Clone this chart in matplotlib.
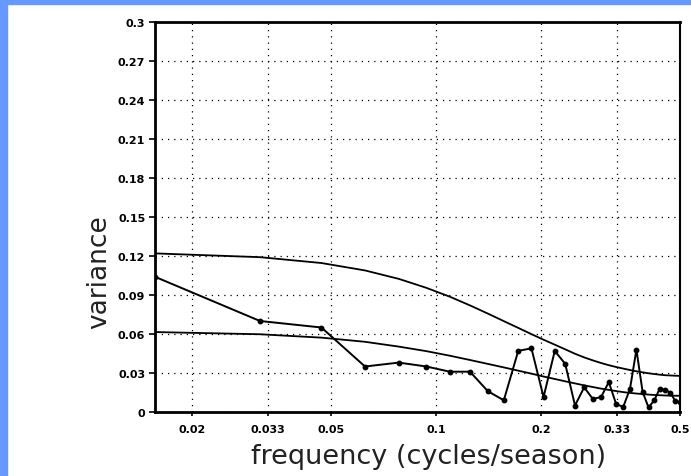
import numpy as np
import matplotlib
matplotlib.use('Agg')
import matplotlib.pyplot as plt
from matplotlib.patches import Rectangle

# harmonics k/64, k = 1..32
freq = np.arange(1, 33) / 64.0

spectrum = [0.104, 0.070, 0.065, 0.035, 0.038, 0.035, 0.031, 0.031,
            0.016, 0.009, 0.047, 0.049, 0.0115, 0.047, 0.037, 0.005,
            0.019, 0.010, 0.0115, 0.023, 0.006, 0.004, 0.0177, 0.048,
            0.0155, 0.0035, 0.009, 0.018, 0.017, 0.015, 0.0085, 0.0075]

upper = [0.1220, 0.1191, 0.1146, 0.1089, 0.1024, 0.0955, 0.0887, 0.0820,
         0.0757, 0.0699, 0.0647, 0.0599, 0.0556, 0.0518, 0.0482, 0.0448,
         0.0420, 0.0397, 0.0377, 0.0360, 0.0346, 0.0334, 0.0323, 0.0313,
         0.0305, 0.0298, 0.0292, 0.0287, 0.0283, 0.0281, 0.0279, 0.0278]

lower = [0.0615, 0.0598, 0.0572, 0.0540, 0.0503, 0.0468, 0.0433, 0.0400,
         0.0370, 0.0343, 0.0318, 0.0295, 0.0273, 0.0254, 0.0236, 0.0220,
         0.0205, 0.0192, 0.0180, 0.0170, 0.0161, 0.0153, 0.0147, 0.0142,
         0.0138, 0.0134, 0.0131, 0.0129, 0.0127, 0.0126, 0.0125, 0.0125]

xticks = [0.02, 0.033, 0.05, 0.1, 0.2, 0.33, 0.5]
xticklabels = ['0.02', '0.033', '0.05', '0.1', '0.2', '0.33', '0.5']
yticks = [0, 0.03, 0.06, 0.09, 0.12, 0.15, 0.18, 0.21, 0.24, 0.27, 0.3]
yticklabels = ['0', '0.03', '0.06', '0.09', '0.12', '0.15', '0.18', '0.21', '0.24', '0.27', '0.3']

fig = plt.figure(figsize=(6.91, 4.77), dpi=100)
fig.patch.set_facecolor('white')

# blue frame strips (left and top)
fig.patches.append(Rectangle((0, 0), 7/691, 1, transform=fig.transFigure, color='#6699ff', zorder=0))
fig.patches.append(Rectangle((0, 1 - 5/477), 1, 5/477, transform=fig.transFigure, color='#6699ff', zorder=0))

ax = fig.add_axes([155/691, 1 - 413/477, 525/691, 390/477])

ax.plot(freq, upper, c='black', lw=1.3)
ax.plot(freq, lower, c='black', lw=1.3)
ax.plot(freq, spectrum, c='black', lw=1.4, marker='o', ms=3.2)

ax.set_xscale('log')
ax.set_xlim([1/64, 0.5])
ax.set_ylim([0, 0.3])

ax.set_xticks(xticks)
ax.set_xticklabels(xticklabels)
ax.minorticks_off()
ax.set_yticks(yticks)
ax.set_yticklabels(yticklabels)

ax.tick_params(axis='both', labelsize=8, length=4, width=1.2, direction='out', pad=3)
ax.tick_params(axis='x', length=3, pad=6)
for lab in ax.get_xticklabels() + ax.get_yticklabels():
    lab.set_fontweight('bold')

ax.grid(True, color='black', ls=(0, (1, 4)), lw=0.9)

for s in ['left', 'bottom', 'top']:
    ax.spines[s].set_linewidth(2.0)
ax.spines['right'].set_linewidth(1.5)

fig.text(429/691, 1 - 457/477, 'frequency (cycles/season)', fontsize=19.5,
         color='#222222', ha='center', va='center')
fig.text(99/691, 1 - 272/477, 'variance', fontsize=19, color='#222222',
         rotation=90, ha='center', va='center')

plt.savefig('out.png', dpi=100)
